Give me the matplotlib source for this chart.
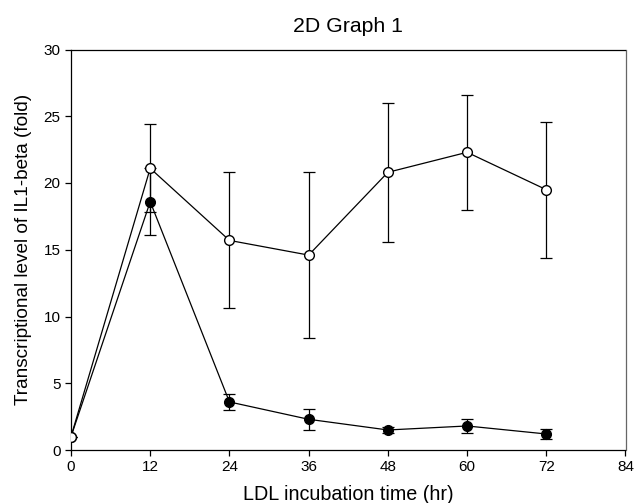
import numpy as np
from matplotlib import pyplot as plt

plt.rcParams['font.family'] = ['Liberation Sans', 'DejaVu Sans']

hours = [0, 12, 24, 36, 48, 60, 72]

# open circles
open_mean = [1.0, 21.1, 15.7, 14.6, 20.8, 22.3, 19.5]
open_err = [0.0, 3.3, 5.1, 6.2, 5.2, 4.3, 5.1]

# filled circles
fill_mean = [1.0, 18.6, 3.6, 2.3, 1.5, 1.8, 1.2]
fill_err = [0.0, 2.5, 0.6, 0.8, 0.2, 0.5, 0.4]

fig = plt.figure(figsize=(6.37, 5.03), dpi=100)
ax = fig.add_axes([71/637, 1-450/503, (625.5-71)/637, (450-49.5)/503])

ax.errorbar(hours, fill_mean, yerr=fill_err, color='black', marker='o', markersize=7,
            markerfacecolor='black', markeredgecolor='black', linewidth=0.9,
            elinewidth=0.9, capsize=4.3, capthick=0.9, zorder=3)
ax.errorbar(hours, open_mean, yerr=open_err, color='black', marker='o', markersize=7,
            markerfacecolor='white', markeredgecolor='black', linewidth=0.9,
            elinewidth=0.9, capsize=4.3, capthick=0.9, zorder=4)

ax.set_xlim(0, 84)
ax.set_ylim(0, 30)
ax.set_xticks(np.arange(0, 85, 12))
ax.set_yticks(np.arange(0, 31, 5))
ax.tick_params(direction='out', length=4, width=0.9, labelsize=11, top=False, right=False)
for s in ['left', 'bottom', 'top']:
    ax.spines[s].set_linewidth(0.9)
ax.spines['right'].set_linewidth(0.9)
ax.spines['right'].set_color('#666666')

ax.set_xlabel('LDL incubation time (hr)', fontsize=14.2, labelpad=7.5)
ax.set_ylabel('Transcriptional level of IL1-beta (fold)', fontsize=13.7, labelpad=8)
ax.set_title('2D Graph 1', fontsize=15.3, pad=12.5)

fig.savefig('out.png', dpi=100)
